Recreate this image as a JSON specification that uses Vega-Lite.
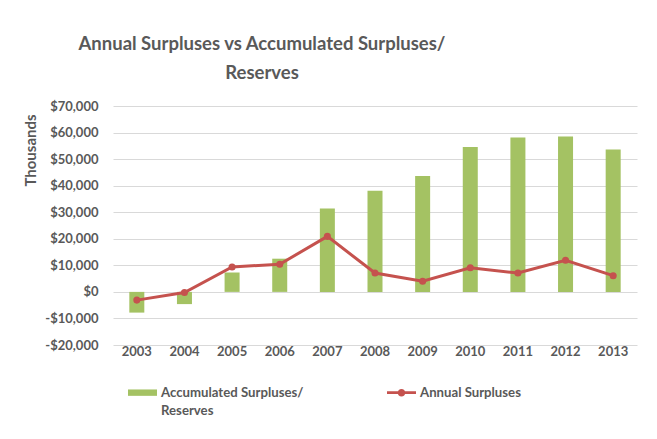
{
  "$schema": "https://vega.github.io/schema/vega-lite/v6.json",
  "autosize": "none",
  "width": 524,
  "height": 239,
  "padding": {"left": 113, "top": 106, "right": 20, "bottom": 94},
  "background": "white",
  "title": {
    "text": ["Annual Surpluses vs Accumulated Surpluses/", "Reserves"],
    "font": "Lato",
    "fontSize": 18.5,
    "fontWeight": "bold",
    "color": "#595959",
    "lineHeight": 29,
    "anchor": "middle",
    "frame": "group",
    "dx": -113,
    "offset": 18
  },
  "data": {
    "values": [
      {"year": "2003", "series": "Accumulated Surpluses/ Reserves", "value": -7800},
      {"year": "2004", "series": "Accumulated Surpluses/ Reserves", "value": -4600},
      {"year": "2005", "series": "Accumulated Surpluses/ Reserves", "value": 7300},
      {"year": "2006", "series": "Accumulated Surpluses/ Reserves", "value": 12500},
      {"year": "2007", "series": "Accumulated Surpluses/ Reserves", "value": 31400},
      {"year": "2008", "series": "Accumulated Surpluses/ Reserves", "value": 38100},
      {"year": "2009", "series": "Accumulated Surpluses/ Reserves", "value": 43600},
      {"year": "2010", "series": "Accumulated Surpluses/ Reserves", "value": 54600},
      {"year": "2011", "series": "Accumulated Surpluses/ Reserves", "value": 58100},
      {"year": "2012", "series": "Accumulated Surpluses/ Reserves", "value": 58500},
      {"year": "2013", "series": "Accumulated Surpluses/ Reserves", "value": 53600},
      {"year": "2003", "series": "Annual Surpluses", "value": -3100},
      {"year": "2004", "series": "Annual Surpluses", "value": -250},
      {"year": "2005", "series": "Annual Surpluses", "value": 9400},
      {"year": "2006", "series": "Annual Surpluses", "value": 10400},
      {"year": "2007", "series": "Annual Surpluses", "value": 20900},
      {"year": "2008", "series": "Annual Surpluses", "value": 7100},
      {"year": "2009", "series": "Annual Surpluses", "value": 4000},
      {"year": "2010", "series": "Annual Surpluses", "value": 9100},
      {"year": "2011", "series": "Annual Surpluses", "value": 7100},
      {"year": "2012", "series": "Annual Surpluses", "value": 11900},
      {"year": "2013", "series": "Annual Surpluses", "value": 6100}
    ]
  },
  "encoding": {
    "x": {
      "field": "year",
      "type": "ordinal",
      "title": null,
      "scale": {"paddingInner": 0.685, "paddingOuter": 0.3425},
      "axis": {
        "labelAngle": 0,
        "domain": false,
        "ticks": false,
        "labelPadding": 0,
        "labelFont": "Lato",
        "labelFontSize": 13,
        "labelFontWeight": "bold",
        "labelColor": "#595959"
      }
    },
    "y": {
      "field": "value",
      "type": "quantitative",
      "title": "Thousands",
      "scale": {"domain": [-20000, 70000], "nice": false, "zero": false},
      "axis": {
        "values": [-20000, -10000, 0, 10000, 20000, 30000, 40000, 50000, 60000, 70000],
        "labelExpr": "(datum.value < 0 ? '-' : '') + '$' + format(abs(datum.value), ',')",
        "domain": false,
        "ticks": false,
        "labelPadding": 15,
        "labelFont": "Lato",
        "labelFontSize": 13,
        "labelFontWeight": "bold",
        "labelColor": "#595959",
        "gridColor": "#d9d9d9",
        "gridWidth": 1,
        "titleFont": "Lato",
        "titleFontSize": 15,
        "titleFontWeight": "bold",
        "titleColor": "#595959",
        "titleAngle": -90,
        "titleAlign": "center",
        "titleBaseline": "middle",
        "titleX": -83,
        "titleY": 44
      }
    },
    "color": {
      "field": "series",
      "type": "nominal",
      "scale": {
        "domain": ["Accumulated Surpluses/ Reserves", "Annual Surpluses"],
        "range": ["#A4C263", "#C5524E"]
      },
      "legend": {
        "title": null,
        "orient": "none",
        "direction": "horizontal",
        "legendX": 15,
        "legendY": 272,
        "labelFont": "Lato",
        "labelFontSize": 13.2,
        "labelFontWeight": "bold",
        "labelColor": "#595959",
        "labelLimit": 0,
        "labelOffset": 4,
        "labelBaseline": "top",
        "columnPadding": 83,
        "symbolSize": 841,
        "labelExpr": "datum.label == 'Accumulated Surpluses/ Reserves' ? ['Accumulated Surpluses/', 'Reserves'] : [datum.label, ' ']",
        "encode": {
          "labels": {"update": {"dy": {"value": -6}, "lineHeight": {"value": 18}}},
          "symbols": {
            "update": {
              "shape": {"signal": "datum.value == 'Annual Surpluses' ? 'M-1,-0.1H1V0.1H-1Z M0.26,0A0.26,0.26,0,1,1,-0.26,0A0.26,0.26,0,1,1,0.26,0Z' : 'M-1,-0.22H1V0.22H-1Z'"},
              "fill": {"signal": "datum.value == 'Annual Surpluses' ? '#C5524E' : '#A4C263'"},
              "stroke": {"value": "transparent"},
              "strokeWidth": {"value": 0},
              "opacity": {"value": 1},
              "size": {"value": 841}
            }
          }
        }
      }
    }
  },
  "layer": [
    {
      "transform": [{"filter": "datum.series == 'Accumulated Surpluses/ Reserves'"}],
      "mark": {"type": "bar"}
    },
    {
      "transform": [{"filter": "datum.series == 'Annual Surpluses'"}],
      "mark": {"type": "line", "strokeWidth": 3, "point": {"size": 50, "filled": true}}
    }
  ],
  "config": {
    "view": {"stroke": null}
  }
}
